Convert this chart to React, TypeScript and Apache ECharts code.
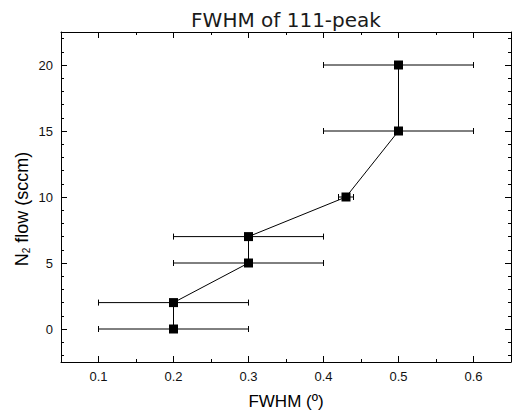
import React, { useEffect, useRef } from "react";
import * as echarts from "echarts";

const fwhm = [0.2, 0.2, 0.3, 0.3, 0.43, 0.5, 0.5];
const flow = [0, 2, 5, 7, 10, 15, 20];
const fwhmErr = [0.1, 0.1, 0.1, 0.1, 0.01, 0.1, 0.1];
const xMajor = [0.1, 0.2, 0.3, 0.4, 0.5, 0.6];
const xMinor = [0.15, 0.25, 0.35, 0.45, 0.55];
const yMajor = [0, 5, 10, 15, 20];
const yMinor = [-2, -1, 1, 2, 3, 4, 6, 7, 8, 9, 11, 12, 13, 14, 16, 17, 18, 19, 21, 22];

const FONT = "'Liberation Sans', Arial, sans-serif";

export default function App() {
  const ref = useRef<HTMLDivElement>(null);
  useEffect(() => {
    if (!ref.current) return;
    const chart = echarts.init(ref.current, null, { renderer: "svg" });
    const axisLine = { show: true, onZero: false, lineStyle: { color: "#000", width: 1 } };
    const noLine = { show: false, onZero: false };
    const major = (vals: number[]) => ({
      show: true,
      inside: true,
      length: 6,
      customValues: vals,
      lineStyle: { color: "#000", width: 1 },
    });
    const minor = (vals: number[]) => ({
      show: true,
      inside: true,
      length: 3,
      customValues: vals,
      lineStyle: { color: "#000", width: 1 },
    });
    const xBase = { type: "value", min: 0.05, max: 0.65, splitLine: { show: false }, gridIndex: 0 };
    const yBase = { type: "value", min: -2.5, max: 22.5, splitLine: { show: false }, gridIndex: 0 };
    const pts = fwhm.map((x, i) => [x, flow[i]]);
    const errData = fwhm.map((x, i) => [x, flow[i], fwhmErr[i]]);
    chart.setOption({
      animation: false,
      backgroundColor: "#fff",
      textStyle: { fontFamily: FONT },
      grid: { left: 61, top: 32, width: 450, height: 330, containLabel: false },
      graphic: [
        {
          type: "text",
          x: 286,
          y: 20,
          style: {
            text: "FWHM of 111-peak",
            fontFamily: "'DejaVu Sans', sans-serif",
            fontSize: 20,
            fill: "#1a1a1a",
            textAlign: "center",
            textVerticalAlign: "middle",
          },
        },
        {
          type: "text",
          x: 22,
          y: 209,
          rotation: Math.PI / 2,
          style: {
            text: "{a|N}{s|2}{a| flow (sccm)}",
            textAlign: "center",
            textVerticalAlign: "middle",
            fill: "#000",
            rich: {
              a: { fontSize: 18, fill: "#000", fontFamily: FONT },
              s: { fontSize: 10, fill: "#000", fontFamily: FONT, verticalAlign: "bottom", padding: [9, 0, 0, 0] },
            },
          },
        },
      ],
      xAxis: [
        {
          ...xBase,
          position: "bottom",
          axisLine,
          axisTick: major(xMajor),
          axisLabel: {
            customValues: xMajor,
            formatter: (v: number) => v.toFixed(1),
            fontSize: 13,
            color: "#111",
            margin: 8,
            fontFamily: FONT,
          },
          name: "FWHM (º)",
          nameLocation: "middle",
          nameGap: 31,
          nameTextStyle: { fontSize: 17, color: "#000", fontFamily: FONT },
        },
        { ...xBase, position: "bottom", axisLine: noLine, axisTick: minor(xMinor), axisLabel: { show: false } },
        { ...xBase, position: "top", axisLine, axisTick: major(xMajor), axisLabel: { show: false } },
        { ...xBase, position: "top", axisLine: noLine, axisTick: minor(xMinor), axisLabel: { show: false } },
      ],
      yAxis: [
        {
          ...yBase,
          position: "left",
          axisLine,
          axisTick: major(yMajor),
          axisLabel: {
            customValues: yMajor,
            fontSize: 13,
            color: "#111",
            margin: 8,
            fontFamily: FONT,
          },
        },
        { ...yBase, position: "left", axisLine: noLine, axisTick: minor(yMinor), axisLabel: { show: false } },
        { ...yBase, position: "right", axisLine, axisTick: major(yMajor), axisLabel: { show: false } },
        { ...yBase, position: "right", axisLine: noLine, axisTick: minor(yMinor), axisLabel: { show: false } },
      ],
      series: [
        {
          type: "custom",
          xAxisIndex: 0,
          yAxisIndex: 0,
          data: errData,
          z: 1,
          renderItem: (params: any, api: any) => {
            const x = api.value(0);
            const y = api.value(1);
            const e = api.value(2);
            const p1 = api.coord([x - e, y]);
            const p2 = api.coord([x + e, y]);
            const style = { stroke: "#000", lineWidth: 1 };
            return {
              type: "group",
              children: [
                { type: "line", shape: { x1: p1[0], y1: p1[1], x2: p2[0], y2: p2[1] }, style },
                { type: "line", shape: { x1: p1[0], y1: p1[1] - 3, x2: p1[0], y2: p1[1] + 3 }, style },
                { type: "line", shape: { x1: p2[0], y1: p2[1] - 3, x2: p2[0], y2: p2[1] + 3 }, style },
              ],
            };
          },
        },
        {
          type: "line",
          xAxisIndex: 0,
          yAxisIndex: 0,
          data: pts,
          z: 3,
          symbol: "rect",
          symbolSize: 9,
          showSymbol: true,
          itemStyle: { color: "#000" },
          lineStyle: { color: "#000", width: 1 },
        },
      ],
    });
    return () => chart.dispose();
  }, []);
  return (
    <div
      ref={ref}
      style={{ position: "fixed", left: 0, top: 0, width: 516, height: 418, background: "#fff" }}
    />
  );
}
